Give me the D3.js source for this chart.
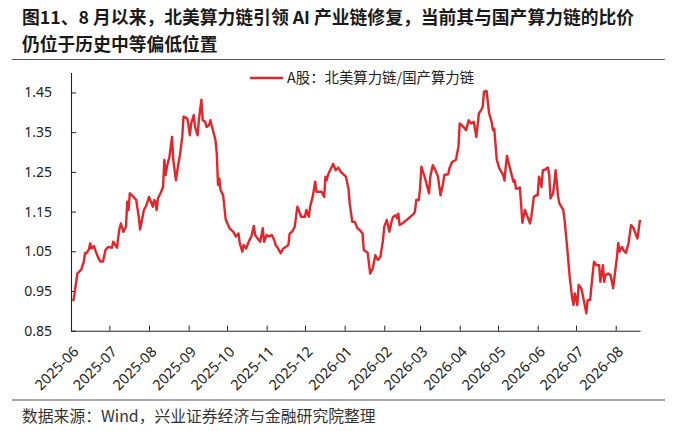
<!DOCTYPE html>
<html>
<head>
<meta charset="utf-8">
<script src="https://cdn.jsdelivr.net/npm/d3@7"></script>
<style>
  body { margin: 0; background: #fff; }
  svg { display: block; font-family: "Noto Sans CJK SC", "Noto Sans", sans-serif; }
</style>
</head>
<body>
<script>
var titleLines = ['图11、8 月以来，北美算力链引领 AI 产业链修复，当前其与国产算力链的比价', '仍位于历史中等偏低位置'];
var seriesName = 'A股：北美算力链/国产算力链';
var sourceText = '数据来源：Wind，兴业证券经济与金融研究院整理';

var monthTicks = ['2025-06', '2025-07', '2025-08', '2025-09', '2025-10', '2025-11', '2025-12',
  '2026-01', '2026-02', '2026-03', '2026-04', '2026-05', '2026-06', '2026-07', '2026-08'];
var yTicks = [0.85, 0.95, 1.05, 1.15, 1.25, 1.35, 1.45];

var dates = [
  '2025-06-02', '2025-06-03', '2025-06-06', '2025-06-09', '2025-06-11', '2025-06-12', '2025-06-13', '2025-06-15',
  '2025-06-16', '2025-06-17', '2025-06-19', '2025-06-20', '2025-06-22', '2025-06-24', '2025-06-26', '2025-06-28',
  '2025-06-30', '2025-07-03', '2025-07-04', '2025-07-07', '2025-07-08', '2025-07-09', '2025-07-10', '2025-07-12',
  '2025-07-14', '2025-07-15', '2025-07-16', '2025-07-17', '2025-07-20', '2025-07-22', '2025-07-24', '2025-07-25',
  '2025-07-26', '2025-07-28', '2025-07-30', '2025-08-01', '2025-08-02', '2025-08-04', '2025-08-05', '2025-08-06',
  '2025-08-07', '2025-08-08', '2025-08-10', '2025-08-12', '2025-08-13', '2025-08-14', '2025-08-15', '2025-08-17',
  '2025-08-19', '2025-08-20', '2025-08-22', '2025-08-24', '2025-08-25', '2025-08-27', '2025-08-28', '2025-08-31',
  '2025-09-02', '2025-09-03', '2025-09-05', '2025-09-06', '2025-09-08', '2025-09-09', '2025-09-11', '2025-09-12',
  '2025-09-14', '2025-09-15', '2025-09-17', '2025-09-18', '2025-09-20', '2025-09-22', '2025-09-23', '2025-09-24',
  '2025-09-25', '2025-09-26', '2025-09-28', '2025-09-30', '2025-10-03', '2025-10-06', '2025-10-08', '2025-10-10',
  '2025-10-11', '2025-10-13', '2025-10-14', '2025-10-16', '2025-10-18', '2025-10-20', '2025-10-22', '2025-10-23',
  '2025-10-25', '2025-10-27', '2025-10-29', '2025-10-30', '2025-11-01', '2025-11-03', '2025-11-05', '2025-11-07',
  '2025-11-08', '2025-11-10', '2025-11-12', '2025-11-14', '2025-11-16', '2025-11-18', '2025-11-19', '2025-11-21',
  '2025-11-23', '2025-11-25', '2025-11-26', '2025-11-28', '2025-12-01', '2025-12-02', '2025-12-04', '2025-12-05',
  '2025-12-07', '2025-12-09', '2025-12-10', '2025-12-12', '2025-12-14', '2025-12-16', '2025-12-17', '2025-12-18',
  '2025-12-19', '2025-12-20', '2025-12-22', '2025-12-23', '2025-12-25', '2025-12-27', '2025-12-29', '2026-01-02',
  '2026-01-04', '2026-01-05', '2026-01-07', '2026-01-09', '2026-01-11', '2026-01-13', '2026-01-15', '2026-01-16',
  '2026-01-18', '2026-01-19', '2026-01-21', '2026-01-23', '2026-01-25', '2026-01-27', '2026-01-29', '2026-01-31',
  '2026-02-01', '2026-02-03', '2026-02-05', '2026-02-07', '2026-02-08', '2026-02-10', '2026-02-11', '2026-02-12',
  '2026-02-13', '2026-02-16', '2026-02-20', '2026-02-24', '2026-02-25', '2026-02-26', '2026-02-28', '2026-03-01',
  '2026-03-02', '2026-03-05', '2026-03-07', '2026-03-08', '2026-03-09', '2026-03-11', '2026-03-13', '2026-03-15',
  '2026-03-17', '2026-03-19', '2026-03-20', '2026-03-23', '2026-03-24', '2026-03-26', '2026-03-29', '2026-03-30',
  '2026-03-31', '2026-04-01', '2026-04-04', '2026-04-06', '2026-04-08', '2026-04-10', '2026-04-12', '2026-04-14',
  '2026-04-16', '2026-04-18', '2026-04-19', '2026-04-20', '2026-04-22', '2026-04-24', '2026-04-26', '2026-04-27',
  '2026-04-28', '2026-04-30', '2026-05-02', '2026-05-05', '2026-05-06', '2026-05-07', '2026-05-08', '2026-05-10',
  '2026-05-12', '2026-05-13', '2026-05-14', '2026-05-15', '2026-05-17', '2026-05-18', '2026-05-19', '2026-05-20',
  '2026-05-22', '2026-05-24', '2026-05-26', '2026-05-27', '2026-05-29', '2026-05-31', '2026-06-01', '2026-06-02',
  '2026-06-03', '2026-06-04', '2026-06-05', '2026-06-06', '2026-06-09', '2026-06-10', '2026-06-11', '2026-06-13',
  '2026-06-14', '2026-06-15', '2026-06-17', '2026-06-18', '2026-06-21', '2026-06-22', '2026-06-24', '2026-06-26',
  '2026-06-28', '2026-06-29', '2026-06-30', '2026-07-02', '2026-07-03', '2026-07-05', '2026-07-06', '2026-07-07',
  '2026-07-09', '2026-07-10', '2026-07-12', '2026-07-13', '2026-07-15', '2026-07-17', '2026-07-19', '2026-07-20',
  '2026-07-22', '2026-07-23', '2026-07-24', '2026-07-26', '2026-07-28', '2026-07-30', '2026-08-01', '2026-08-02',
  '2026-08-03', '2026-08-04', '2026-08-06', '2026-08-07', '2026-08-09', '2026-08-11', '2026-08-13', '2026-08-15',
  '2026-08-16', '2026-08-18', '2026-08-20'
];

var ratio = [
  0.931, 0.927, 0.994, 1.004, 1.024, 1.046, 1.045, 1.055,
  1.070, 1.057, 1.063, 1.053, 1.036, 1.024, 1.024, 1.053,
  1.061, 1.059, 1.074, 1.059, 1.087, 1.108, 1.120, 1.099,
  1.112, 1.175, 1.154, 1.196, 1.187, 1.179, 1.137, 1.105,
  1.120, 1.154, 1.166, 1.187, 1.179, 1.162, 1.179, 1.175,
  1.154, 1.183, 1.196, 1.212, 1.280, 1.242, 1.263, 1.288,
  1.338, 1.280, 1.229, 1.271, 1.288, 1.338, 1.389, 1.384,
  1.342, 1.372, 1.393, 1.363, 1.342, 1.380, 1.432, 1.380,
  1.376, 1.363, 1.368, 1.380, 1.355, 1.330, 1.296, 1.217,
  1.233, 1.204, 1.191, 1.130, 1.108, 1.099, 1.087, 1.095,
  1.070, 1.049, 1.066, 1.057, 1.074, 1.087, 1.114, 1.091,
  1.082, 1.074, 1.108, 1.074, 1.091, 1.087, 1.091, 1.078,
  1.066, 1.057, 1.045, 1.057, 1.061, 1.066, 1.095, 1.099,
  1.112, 1.162, 1.155, 1.137, 1.137, 1.154, 1.137, 1.162,
  1.187, 1.225, 1.200, 1.200, 1.200, 1.187, 1.238, 1.229,
  1.242, 1.250, 1.263, 1.270, 1.254, 1.261, 1.250, 1.238,
  1.208, 1.170, 1.124, 1.124, 1.108, 1.103, 1.095, 1.053,
  1.049, 1.046, 0.994, 1.007, 1.040, 1.028, 1.036, 1.078,
  1.112, 1.129, 1.099, 1.129, 1.137, 1.141, 1.133, 1.145,
  1.116, 1.122, 1.133, 1.144, 1.150, 1.179, 1.179, 1.208,
  1.263, 1.233, 1.208, 1.196, 1.238, 1.267, 1.254, 1.238,
  1.191, 1.221, 1.242, 1.244, 1.259, 1.275, 1.280, 1.296,
  1.313, 1.372, 1.363, 1.355, 1.380, 1.372, 1.376, 1.338,
  1.397, 1.407, 1.414, 1.452, 1.454, 1.397, 1.376, 1.355,
  1.359, 1.280, 1.259, 1.242, 1.228, 1.263, 1.290, 1.263,
  1.238, 1.225, 1.229, 1.208, 1.208, 1.211, 1.170, 1.122,
  1.154, 1.137, 1.120, 1.137, 1.187, 1.191, 1.191, 1.238,
  1.229, 1.212, 1.254, 1.254, 1.261, 1.242, 1.183, 1.196,
  1.221, 1.254, 1.187, 1.170, 1.154, 1.129, 1.061, 0.986,
  0.931, 0.915, 0.944, 0.915, 0.965, 0.957, 0.944, 0.927,
  0.894, 0.927, 0.927, 0.961, 1.024, 1.015, 1.015, 0.973,
  1.015, 0.973, 0.990, 0.994, 0.990, 0.957, 1.011, 1.036,
  1.071, 1.049, 1.061, 1.053, 1.046, 1.070, 1.116, 1.108,
  1.099, 1.082, 1.129
];

var screen = { width: 675, height: 431 };
var plot = { left: 71, right: 640, top: 72.6, bottom: 330.7 };

var parseDay = d3.timeParse('%Y-%m-%d');
var parseMonth = d3.timeParse('%Y-%m');
var points = dates.map(function(d, i){ return { date: parseDay(d), value: ratio[i] }; });

var svg = d3.select('body')
            .append('svg')
            .attr('width', screen.width)
            .attr('height', screen.height);

svg.append('rect')
   .attr('width', screen.width)
   .attr('height', screen.height)
   .attr('fill', '#fff');

// title
var title = svg.append('g').attr('fill', '#1a1a1a').style('font-weight', 'bold').style('font-size', '17.8px');
title.selectAll('text')
     .data(titleLines)
     .enter()
     .append('text')
     .attr('x', 22)
     .attr('y', function(d, i){ return 23.5 + i * 27; })
     .text(function(d){ return d; });

svg.append('line')
   .attr('x1', 12).attr('x2', 665)
   .attr('y1', 59.5).attr('y2', 59.5)
   .attr('stroke', '#555').attr('stroke-width', 1.2);

var xScale = d3.scaleTime()
               .domain([parseDay('2025-06-01'), parseDay('2026-08-20')])
               .range([plot.left, plot.right]);

var yScale = d3.scaleLinear()
               .domain([0.85, 1.5])
               .range([plot.bottom, plot.top]);

var yAxis = svg.append('g')
               .attr('transform', 'translate(' + plot.left + ',0)')
               .call(d3.axisLeft(yScale)
                       .tickValues(yTicks)
                       .tickSize(-5)
                       .tickSizeOuter(0)
                       .tickPadding(19)
                       .tickFormat(d3.format('.2f')));

var xAxis = svg.append('g')
               .attr('transform', 'translate(0,' + plot.bottom + ')')
               .call(d3.axisBottom(xScale)
                       .tickValues(monthTicks.map(parseMonth))
                       .tickSize(-5)
                       .tickSizeOuter(0)
                       .tickFormat(d3.timeFormat('%Y-%m')));

[xAxis, yAxis].forEach(function(ax){
  ax.select('.domain').attr('stroke', '#222').attr('stroke-width', 1.1);
  ax.selectAll('.tick line').attr('stroke', '#222');
  ax.selectAll('.tick text').attr('fill', '#222').style('font-size', '14px').style('font-family', '"Noto Sans", sans-serif');
});

xAxis.selectAll('.tick text')
     .style('font-size', '14.5px')
     .attr('text-anchor', 'end')
     .attr('y', 0)
     .attr('dy', 0)
     .attr('transform', 'translate(8,22) rotate(-45)');

// series
var line = d3.line()
             .x(function(d){ return xScale(d.date); })
             .y(function(d){ return yScale(d.value); });

svg.append('path')
   .datum(points)
   .attr('d', line)
   .attr('fill', 'none')
   .attr('stroke', '#e3262b')
   .attr('stroke-width', 2.4)
   .attr('stroke-linejoin', 'round');

// legend
var legend = svg.append('g').attr('transform', 'translate(250,78)');
legend.append('line')
      .attr('x1', 0).attr('x2', 33)
      .attr('stroke', '#e3262b').attr('stroke-width', 2.4);
legend.append('text')
      .attr('x', 37).attr('y', 5)
      .attr('fill', '#222')
      .style('font-size', '14.4px')
      .text(seriesName);

// source
svg.append('line')
   .attr('x1', 12).attr('x2', 665)
   .attr('y1', 400).attr('y2', 400)
   .attr('stroke', '#555').attr('stroke-width', 1.2);

svg.append('text')
   .attr('x', 22).attr('y', 422)
   .attr('fill', '#333')
   .style('font-size', '15.8px')
   .text(sourceText);
</script>
</body>
</html>
